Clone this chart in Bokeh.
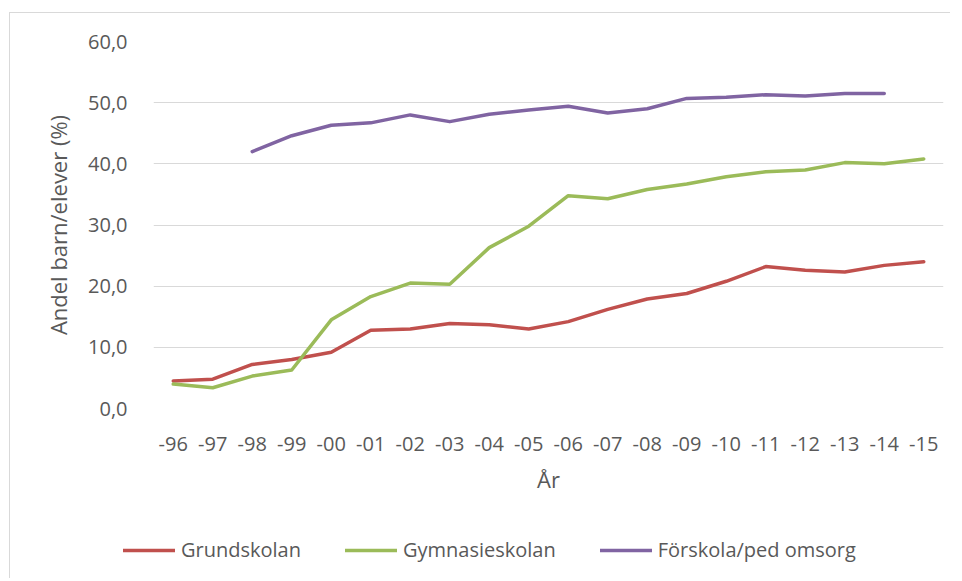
from bokeh.plotting import figure
from bokeh.layouts import column
from bokeh.models import FactorRange, Range1d, Legend, LegendItem, FixedTicker, CustomJSTickFormatter
from bokeh.embed import file_html
from bokeh.resources import INLINE

years = ["-96", "-97", "-98", "-99", "-00", "-01", "-02", "-03", "-04", "-05",
         "-06", "-07", "-08", "-09", "-10", "-11", "-12", "-13", "-14", "-15"]
grundskolan = [4.5, 4.8, 7.2, 8.0, 9.2, 12.8, 13.0, 13.9, 13.7, 13.0,
               14.2, 16.2, 17.9, 18.8, 20.8, 23.2, 22.6, 22.3, 23.4, 24.0]
gymnasieskolan = [4.0, 3.4, 5.3, 6.3, 14.5, 18.3, 20.5, 20.3, 26.3, 29.8,
                  34.8, 34.3, 35.8, 36.7, 37.9, 38.7, 39.0, 40.2, 40.0, 40.8]
forskola = [None, None, 42.0, 44.6, 46.3, 46.7, 48.0, 46.9, 48.1, 48.8,
            49.4, 48.3, 49.0, 50.7, 50.9, 51.3, 51.1, 51.5, 51.5, None]
y_ticks = [0, 10, 20, 30, 40, 50, 60]
series_names = ["Grundskolan", "Gymnasieskolan", "Förskola/ped omsorg"]
colors = ["#C0504D", "#9BBB59", "#8064A2"]

FONT = "Open Sans"
GRAY = "#595959"
LW = 3.5

p = figure(x_range=FactorRange(*years), y_range=Range1d(0, 60),
           width=940, height=495, output_backend="svg", toolbar_location=None,
           min_border_left=143, min_border_right=7, min_border_top=28, min_border_bottom=100)
p.outline_line_color = None
p.background_fill_color = "white"
p.border_fill_color = "white"

for name, vals, col in zip(series_names, [grundskolan, gymnasieskolan, forskola], colors):
    xs = [y for y, v in zip(years, vals) if v is not None]
    ys = [v for v in vals if v is not None]
    p.line(xs, ys, line_color=col, line_width=LW, line_join="round", line_cap="round")

p.xgrid.grid_line_color = None
p.ygrid.grid_line_color = "#D9D9D9"
p.ygrid.grid_line_width = 1

p.yaxis.ticker = FixedTicker(ticks=y_ticks)
p.yaxis.formatter = CustomJSTickFormatter(code="return tick.toFixed(1).replace('.', ',');")
for ax in (p.xaxis[0], p.yaxis[0]):
    ax.axis_line_color = None
    ax.major_tick_line_color = None
    ax.minor_tick_line_color = None
    ax.major_label_text_font = FONT
    ax.major_label_text_font_size = "20px"
    ax.major_label_text_color = GRAY
    ax.axis_label_text_font = FONT
    ax.axis_label_text_font_size = "22px"
    ax.axis_label_text_color = GRAY
    ax.axis_label_text_font_style = "normal"

p.xaxis.axis_label = "År"
p.xaxis.major_label_standoff = 22
p.xaxis.axis_label_standoff = 10
p.yaxis.axis_label = "Andel barn/elever (%)"
p.yaxis.major_label_standoff = 20
p.yaxis.axis_label_standoff = 12

# legend strip below the chart
lg = figure(width=940, height=70, x_range=Range1d(0, 1), y_range=Range1d(0, 1),
            output_backend="svg", toolbar_location=None,
            min_border_left=0, min_border_right=0, min_border_top=0, min_border_bottom=0)
if hasattr(lg, "frame_align"):
    lg.frame_align = False
lg.axis.visible = False
lg.grid.grid_line_color = None
lg.outline_line_color = None
lg.border_fill_color = "white"
items = []
for name, col in zip(series_names, colors):
    # key-only lines, drawn outside the visible range
    r = lg.line(x=[5, 6], y=[5, 6], line_color=col, line_width=LW, line_cap="round")
    items.append(LegendItem(label=name, renderers=[r]))
legend = Legend(items=items, orientation="horizontal", location=(113, 15),
                padding=0, margin=0, spacing=44, glyph_width=52, glyph_height=20,
                label_standoff=6, label_text_font=FONT, label_text_font_size="20px",
                label_text_color=GRAY, border_line_color=None, background_fill_alpha=0)
lg.add_layout(legend)

layout = column(p, lg, spacing=0)
layout.styles = {"margin-left": "9px", "margin-top": "12px",
                 "border-left": "1px solid #D9D9D9", "border-top": "1px solid #D9D9D9"}

open("out.html", "w").write(file_html(layout, INLINE))
